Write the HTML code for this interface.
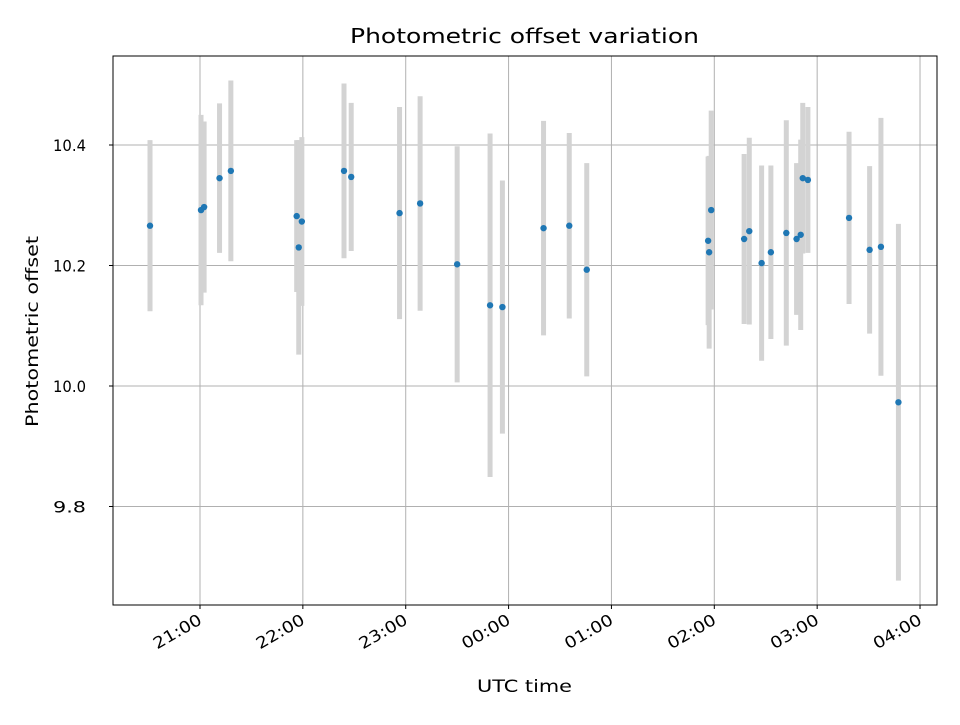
<!DOCTYPE html>
<html><head><meta charset="utf-8"><style>
body{margin:0;background:#fff;}
svg text{font-family:"DejaVu Sans","Liberation Sans",sans-serif;fill:#000;}
</style></head><body>
<svg id="chart" width="960" height="720" xmlns="http://www.w3.org/2000/svg">
<rect width="960" height="720" fill="#fff"/>
<g id="grid"></g><g id="bars"></g><g id="points"></g><g id="axes"></g>
<text x="350" y="43" font-size="20" textLength="349" lengthAdjust="spacingAndGlyphs">Photometric offset variation</text>
<text x="477" y="692" font-size="17" textLength="95" lengthAdjust="spacingAndGlyphs">UTC time</text>
<text transform="translate(38,427) rotate(-90)" font-size="17" textLength="191" lengthAdjust="spacingAndGlyphs">Photometric offset</text>
</svg>
<script>
// hours after 20:00 UTC
const times=[0.514,1.01,1.04,1.19,1.30,1.94,1.96,1.99,2.40,2.47,2.94,3.14,3.50,3.82,3.94,4.34,4.59,4.76,5.94,5.95,5.97,6.29,6.34,6.46,6.55,6.70,6.80,6.84,6.86,6.91,7.31,7.51,7.62,7.79];
const offsets=[10.266,10.292,10.297,10.345,10.357,10.282,10.230,10.273,10.357,10.347,10.287,10.303,10.202,10.134,10.131,10.262,10.266,10.193,10.241,10.222,10.292,10.244,10.257,10.204,10.222,10.254,10.244,10.251,10.345,10.342,10.279,10.226,10.231,9.973];
const errors=[0.142,0.158,0.142,0.124,0.150,0.126,0.178,0.140,0.145,0.123,0.176,0.178,0.196,0.285,0.210,0.178,0.154,0.177,0.140,0.160,0.165,0.141,0.155,0.162,0.144,0.187,0.126,0.158,0.125,0.121,0.143,0.139,0.214,0.296];
const yTicks=[9.8,10.0,10.2,10.4];
const xTickHours=[1,2,3,4,5,6,7,8];
const xTickLabels=["21:00","22:00","23:00","00:00","01:00","02:00","03:00","04:00"];
const L=113,R=937,T=56,B=605;
const xs=h=>200+(h-1)*102.86;
const ys=v=>145+(10.4-v)*602.5;
const NS="http://www.w3.org/2000/svg";
function mk(parent,tag,attrs){const e=document.createElementNS(NS,tag);for(const k in attrs)e.setAttribute(k,attrs[k]);document.getElementById(parent).appendChild(e);return e;}
yTicks.forEach(v=>{
 const g=mk('grid','line',{x1:L,x2:R,y1:ys(v),y2:ys(v),stroke:'#b0b0b0','stroke-width':1});
 
 
 const t=mk('axes','line',{x1:L-4,x2:L,y1:ys(v),y2:ys(v),stroke:'#000'});
 
 
 const l=mk('axes','text',{x:L-60,y:ys(v)+6,'font-size':16,textLength:33,lengthAdjust:'spacingAndGlyphs'});
 l.textContent=v.toFixed(1);
 
 
});
xTickHours.forEach((h,i)=>{
 const x=xs(h);
 const g=mk('grid','line',{x1:x,x2:x,y1:T,y2:B,stroke:'#b0b0b0','stroke-width':1});
 
 
 const t=mk('axes','line',{x1:x,x2:x,y1:B,y2:B+4,stroke:'#000'});
 
 
 const l=mk('axes','text',{x:-53,y:0,'font-size':16,textLength:53,lengthAdjust:'spacingAndGlyphs',transform:`translate(${x+3},${B+18}) rotate(-30)`});
 l.textContent=xTickLabels[i];
 
 
});
times.forEach((h,i)=>{
 const b=mk('bars','line',{x1:xs(h),x2:xs(h),y1:ys(offsets[i]+errors[i]),y2:ys(offsets[i]-errors[i]),stroke:'#d3d3d3','stroke-width':5});
 
 
 const p=mk('points','circle',{cx:xs(h),cy:ys(offsets[i]),r:3.2,fill:'#1f77b4'});
 
 
});
const f=mk('axes','rect',{x:L,y:T,width:R-L,height:B-T,fill:'none',stroke:'#000','stroke-width':1});


</script>
</body></html>
